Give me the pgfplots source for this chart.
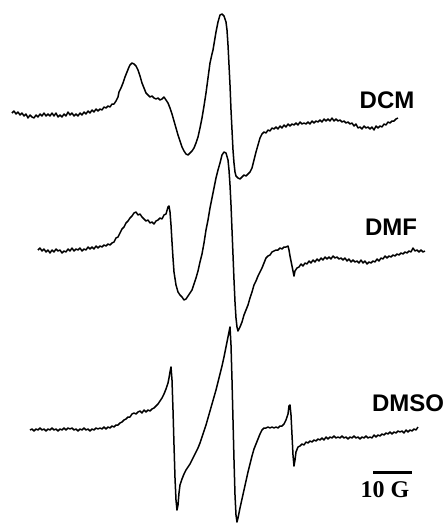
\documentclass[border=0pt]{standalone}
\usepackage{pgfplots}
\pgfplotsset{compat=1.18}
\usepackage{fontspec}
\setmainfont{Liberation Sans}
\newfontfamily\serifb{Liberation Serif}
\begin{document}
\begin{tikzpicture}
\begin{axis}[scale only axis, width=446pt, height=523pt,
  xmin=0, xmax=446, ymin=0, ymax=523, y dir=reverse,
  hide axis, clip=false]
% DCM
\addplot[black, line width=1.5pt, line join=round] coordinates {
(12,113)(14,111)(16,114)(18,112)(20,115)(22,113)(24,116)(26,114)(28,118)(30,115)(32,117)(34,118)(36,115)(38,117)(40,114)(42,116)(44,113)(46,116)(48,114)(50,116)(52,113)(54,116)(56,113)(58,117)(60,115)(62,117)(64,114)(66,116)(68,112)(70,115)(72,113)(74,116)(76,114)(78,116)(80,113)(82,115)(84,112)(86,114)(88,111)(90,113)(92,110)(94,112)(96,109)(98,111)(100,109)(102,110)(104,107)(106,108)(108,106)(110,107)(112,104)(114,104)(116,101)(118,97)(119,92)(121,88)(123,83)(125,77)(127,72)(129,67)(130,65)(132,63)(134,64)(136,66)(138,70)(140,76)(142,83)(144,88)(146,93)(148,95)(150,97)(152,96)(154,98)(156,99)(158,98)(160,100)(162,99)(164,97)(166,100)(168,103)(170,108)(172,114)(174,121)(176,128)(178,135)(180,141)(182,147)(184,151)(186,154)(188,155)(190,153)(192,151)(194,148)(196,143)(198,137)(200,128)(202,118)(204,106)(206,93)(208,78)(210,63)(212,54)(213,50)(214,44)(216,32)(218,22)(220,15)(222,14)(224,16)(226,22)(227,30)(228,45)(229,65)(230,85)(231,110)(232,130)(233,150)(234,163)(235,172)(236,176)(238,178)(240,179)(242,177)(244,175)(246,176)(248,174)(250,172)(252,168)(254,160)(256,152)(258,145)(260,138)(262,134)(264,132)(266,133)(268,130)(270,131)(272,128)(274,129)(276,127)(278,129)(280,126)(282,128)(284,125)(286,127)(288,124)(290,126)(292,124)(294,125)(296,123)(298,125)(300,122)(302,124)(304,123)(306,124)(308,122)(310,124)(312,121)(314,123)(316,121)(318,122)(320,120)(322,122)(324,119)(326,121)(328,119)(330,121)(332,118)(334,121)(336,119)(338,121)(340,120)(342,122)(344,121)(346,123)(348,122)(350,124)(352,123)(354,126)(356,124)(358,128)(360,127)(362,129)(364,126)(366,128)(368,127)(370,129)(372,127)(374,130)(376,126)(378,128)(380,126)(382,127)(384,124)(386,125)(388,122)(390,123)(392,121)(394,121)(396,119)(398,118)
};
% DMF
\addplot[black, line width=1.5pt, line join=round] coordinates {
(38,250)(40,248)(42,251)(44,249)(46,252)(48,250)(50,253)(52,250)(54,252)(56,249)(58,251)(60,250)(62,253)(64,251)(66,252)(68,249)(70,251)(72,248)(74,251)(76,249)(78,250)(80,248)(82,251)(84,249)(86,250)(88,247)(90,249)(92,247)(94,249)(96,246)(98,248)(100,246)(102,247)(104,245)(106,246)(108,244)(110,245)(112,243)(114,242)(116,238)(118,237)(120,233)(122,229)(124,227)(126,223)(128,221)(130,218)(132,216)(134,213)(136,212)(138,215)(140,214)(142,217)(144,219)(146,221)(148,220)(150,223)(152,222)(154,224)(156,221)(158,220)(160,218)(162,219)(164,215)(166,214)(168,207)(169,206)(170,212)(171,225)(172,242)(173,258)(174,272)(176,285)(178,292)(180,295)(182,297)(184,300)(186,299)(188,296)(190,293)(192,290)(194,284)(196,278)(198,271)(200,262)(202,254)(204,243)(206,230)(208,220)(210,208)(212,198)(214,188)(216,178)(218,170)(220,163)(222,155)(224,152)(226,153)(228,160)(229,170)(230,185)(231,205)(232,230)(233,255)(234,280)(235,302)(236,318)(237,327)(238,331)(240,327)(242,322)(244,315)(246,310)(248,305)(250,298)(252,292)(254,285)(256,281)(258,276)(260,272)(262,268)(264,263)(266,258)(268,256)(270,255)(272,252)(274,251)(276,250)(278,250)(280,248)(282,249)(284,247)(286,247)(288,246)(289,250)(290,256)(292,266)(294,276)(295,271)(297,268)(299,267)(301,264)(303,266)(305,263)(307,264)(309,261)(311,263)(313,260)(315,262)(317,259)(319,261)(321,258)(323,260)(325,257)(327,259)(329,257)(331,259)(333,256)(335,258)(337,257)(339,259)(341,258)(343,260)(345,258)(347,261)(349,259)(351,262)(353,260)(355,262)(357,261)(359,263)(361,260)(363,263)(365,261)(367,264)(369,262)(371,263)(373,261)(375,262)(377,259)(379,261)(381,258)(383,259)(385,256)(387,258)(389,256)(391,257)(393,255)(395,256)(397,254)(399,255)(401,253)(403,254)(405,252)(407,253)(409,251)(411,252)(413,248)(415,251)(417,250)(419,252)(421,250)(423,252)(425,251)
};
% DMSO
\addplot[black, line width=1.5pt, line join=round] coordinates {
(30,430)(32,429)(34,431)(36,429)(38,430)(40,428)(42,430)(44,429)(46,431)(48,429)(50,430)(52,428)(54,430)(56,429)(58,431)(60,429)(62,430)(64,428)(66,430)(68,428)(70,429)(72,428)(74,430)(76,429)(78,431)(80,429)(82,430)(84,428)(86,430)(88,429)(90,431)(92,429)(94,430)(96,428)(98,429)(100,428)(102,429)(104,427)(106,429)(108,427)(110,428)(112,426)(114,427)(116,425)(118,425)(120,423)(122,422)(124,420)(126,419)(128,417)(130,417)(132,414)(134,413)(136,414)(138,412)(140,411)(142,413)(144,410)(146,412)(148,410)(150,411)(152,409)(154,408)(156,406)(158,404)(160,401)(162,398)(164,394)(166,389)(168,383)(169,378)(170,372)(171,367)(172,380)(173,410)(174,445)(175,478)(176,500)(177,510)(178,505)(179,493)(180,485)(182,479)(184,474)(186,470)(188,467)(190,464)(192,460)(194,456)(196,452)(198,448)(200,443)(202,437)(204,431)(206,425)(208,418)(210,411)(212,404)(214,397)(216,390)(218,382)(220,374)(222,366)(224,357)(226,347)(228,337)(229,332)(230,327)(231,345)(232,380)(233,420)(234,460)(235,495)(236,515)(237,522)(238,518)(240,508)(242,499)(244,490)(246,481)(248,472)(250,464)(252,456)(254,449)(256,444)(258,439)(260,434)(262,430)(264,428)(266,428)(268,427)(270,428)(272,427)(274,428)(276,427)(278,428)(280,426)(282,426)(284,424)(286,420)(288,414)(289,406)(290,405)(291,415)(292,435)(293,455)(294,466)(295,460)(296,452)(298,447)(300,446)(302,444)(304,445)(306,442)(308,443)(310,441)(312,442)(314,440)(316,441)(318,439)(320,440)(322,438)(324,440)(326,437)(328,439)(330,437)(332,438)(334,436)(336,438)(338,437)(340,438)(342,436)(344,438)(346,437)(348,439)(350,437)(352,438)(354,436)(356,438)(358,437)(360,439)(362,437)(364,438)(366,436)(368,438)(370,437)(372,438)(374,435)(376,437)(378,435)(380,436)(382,434)(384,435)(386,433)(388,434)(390,432)(392,434)(394,432)(396,433)(398,431)(400,432)(402,431)(404,433)(406,430)(408,432)(410,430)(412,431)(414,429)(416,430)(418,427)
};
% scale bar
\addplot[black, line width=3pt] coordinates {(373,472.5)(412,472.5)};
\node[font=\fontsize{24}{24}\selectfont\bfseries] at (axis cs:387,100) {DCM};
\node[font=\fontsize{24}{24}\selectfont\bfseries] at (axis cs:391,227) {DMF};
\node[font=\fontsize{24}{24}\selectfont\bfseries] at (axis cs:408,403) {DMSO};
\node[font=\serifb\fontsize{24}{24}\selectfont\bfseries] at (axis cs:385,490) {10 G};
\end{axis}
\pgfresetboundingbox
\path (current axis.south west) rectangle (current axis.north east);
\end{tikzpicture}
\end{document}
